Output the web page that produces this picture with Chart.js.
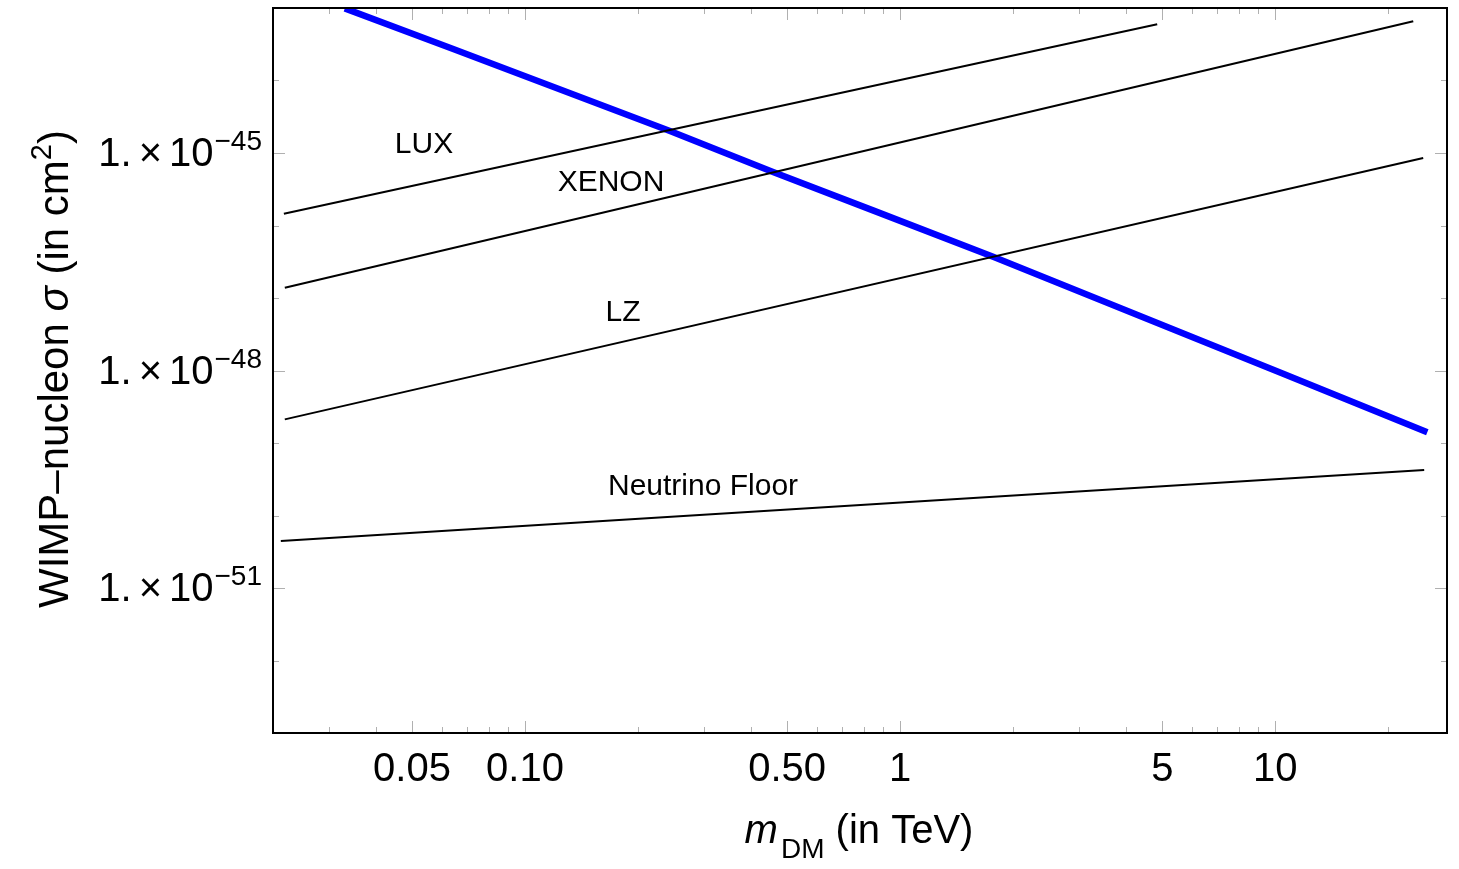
<!DOCTYPE html>
<html lang="en">
<head>
  <meta charset="UTF-8" />
  <title>WIMP-nucleon cross section</title>
  <script src="https://cdn.jsdelivr.net/npm/chart.js"></script>
  <style>
    html, body {
      margin: 0;
      padding: 0;
      background: #fff;
    }
    #wrap {
      width: 1459px;
      height: 869px;
      position: relative;
    }
  </style>
</head>
<body>
  <div id="wrap"><canvas id="limitChart"></canvas></div>
  <script>
    // --- data (mass in TeV, sigma in cm^2) ---
    const luxMass = [0.02277, 4.846];
    const luxSigma = [1.449e-46, 5.957e-44];

    const xenonMass = [0.0229, 23.33];
    const xenonSigma = [1.387e-47, 6.546e-44];

    const lzMass = [0.0229, 24.8];
    const lzSigma = [2.118e-49, 8.53e-46];

    const nuMass = [0.02235, 24.95];
    const nuSigma = [4.436e-51, 4.246e-50];

    const modelMass = [0.0331, 0.2435, 0.4584, 1.77, 25.43];
    const modelSigma = [9.886e-44, 2.01e-45, 5.48e-46, 3.707e-47, 1.403e-49];

    // text labels inside the plot
    const labelNames = ['LUX', 'XENON', 'LZ', 'Neutrino Floor'];
    const labelMass = [0.0538, 0.1696, 0.1825, 0.2983];
    const labelSigma = [1.374e-45, 4.12e-46, 6.7e-48, 2.62e-50];

    // ticks
    const xMajorTicks = [0.05, 0.1, 0.5, 1, 5, 10];
    const xTickLabels = ['0.05', '0.10', '0.50', '1', '5', '10'];
    const xMinorTicks = [0.03, 0.04, 0.06, 0.07, 0.08, 0.09, 0.2, 0.3, 0.4,
      0.6, 0.7, 0.8, 0.9, 2, 3, 4, 6, 7, 8, 9, 20];
    const yMajorTicks = [1e-45, 1e-48, 1e-51];
    const yTickExp = ['\u221245', '\u221248', '\u221251'];
    const yMinorTicks = [1e-44, 1e-46, 1e-47, 1e-49, 1e-50, 1e-52];

    const FONT = '"Liberation Sans", Arial, Helvetica, sans-serif';

    function pairs(xs, ys) {
      return xs.map((x, i) => ({ x: x, y: ys[i] }));
    }

    // draw a run of text pieces with different fonts / offsets
    function drawParts(ctx, parts, x, y, align) {
      let w = 0;
      parts.forEach(p => {
        ctx.font = p.font;
        p.w = ctx.measureText(p.text).width;
        w += p.w + (p.gap || 0);
      });
      let cx = x;
      if (align === 'center') cx = x - w / 2;
      if (align === 'right') cx = x - w;
      ctx.textAlign = 'left';
      ctx.textBaseline = 'alphabetic';
      parts.forEach(p => {
        ctx.font = p.font;
        ctx.fillText(p.text, cx, y + (p.dy || 0));
        cx += p.w + (p.gap || 0);
      });
    }

    const framePlugin = {
      id: 'framePlugin',
      beforeDatasetsDraw(chart) {
        const ctx = chart.ctx;
        const a = chart.chartArea;
        const xs = chart.scales.x;
        const ys = chart.scales.y;
        ctx.save();
        ctx.strokeStyle = '#b0b0b0';
        ctx.lineWidth = 1;
        ctx.beginPath();
        const xt = xMajorTicks.map(v => [v, 12]).concat(xMinorTicks.map(v => [v, 6]));
        xt.forEach(([v, len]) => {
          const px = Math.round(xs.getPixelForValue(v)) + 0.5;
          ctx.moveTo(px, a.bottom); ctx.lineTo(px, a.bottom - len);
          ctx.moveTo(px, a.top); ctx.lineTo(px, a.top + len);
        });
        const yt = yMajorTicks.map(v => [v, 12]).concat(yMinorTicks.map(v => [v, 6]));
        yt.forEach(([v, len]) => {
          const py = Math.round(ys.getPixelForValue(v)) + 0.5;
          ctx.moveTo(a.left, py); ctx.lineTo(a.left + len, py);
          ctx.moveTo(a.right, py); ctx.lineTo(a.right - len, py);
        });
        ctx.stroke();
        ctx.restore();
      },
      afterDatasetsDraw(chart) {
        const ctx = chart.ctx;
        const a = chart.chartArea;
        const xs = chart.scales.x;
        const ys = chart.scales.y;
        ctx.save();

        // frame
        ctx.strokeStyle = '#000';
        ctx.lineWidth = 2;
        ctx.strokeRect(a.left, a.top, a.right - a.left, a.bottom - a.top);

        ctx.fillStyle = '#000';

        // x tick labels
        ctx.font = '40px ' + FONT;
        ctx.textAlign = 'center';
        ctx.textBaseline = 'alphabetic';
        xMajorTicks.forEach((v, i) => {
          ctx.fillText(xTickLabels[i], xs.getPixelForValue(v), a.bottom + 48);
        });

        // y tick labels: 1. x 10^-nn
        yMajorTicks.forEach((v, i) => {
          const py = ys.getPixelForValue(v);
          drawParts(ctx, [
            { text: '1.', font: '40px ' + FONT, gap: 7 },
            { text: '\u00d7', font: '40px ' + FONT, gap: 7 },
            { text: '10', font: '40px ' + FONT, gap: 1 },
            { text: yTickExp[i], font: '28px ' + FONT, dy: -16 }
          ], a.left - 11, py + 13, 'right');
        });

        // x axis title
        drawParts(ctx, [
          { text: 'm', font: 'italic 40px ' + FONT, gap: 3 },
          { text: 'DM', font: '28px ' + FONT, dy: 15 },
          { text: ' (in TeV)', font: '40px ' + FONT }
        ], 859, 843, 'center');

        // y axis title (rotated)
        ctx.save();
        ctx.translate(68, 369);
        ctx.rotate(-Math.PI / 2);
        drawParts(ctx, [
          { text: 'WIMP\u2013nucleon ', font: '42px ' + FONT },
          { text: '\u03c3', font: 'italic 42px ' + FONT },
          { text: ' (in cm', font: '42px ' + FONT },
          { text: '2', font: '29px ' + FONT, dy: -17 },
          { text: ')', font: '42px ' + FONT }
        ], 0, 0, 'center');
        ctx.restore();

        // in-plot labels
        ctx.font = '30px ' + FONT;
        ctx.textAlign = 'center';
        ctx.textBaseline = 'middle';
        labelNames.forEach((t, i) => {
          ctx.fillText(t, xs.getPixelForValue(labelMass[i]), ys.getPixelForValue(labelSigma[i]) + 2);
        });

        ctx.restore();
      }
    };

    const blackLine = {
      borderColor: '#000',
      borderWidth: 2,
      showLine: true,
      pointRadius: 0,
      fill: false
    };

    const ctx = document.getElementById('limitChart').getContext('2d');
    const limitChart = new Chart(ctx, {
      type: 'scatter',
      data: {
        datasets: [
          Object.assign({ label: 'LUX', data: pairs(luxMass, luxSigma) }, blackLine),
          Object.assign({ label: 'XENON', data: pairs(xenonMass, xenonSigma) }, blackLine),
          Object.assign({ label: 'LZ', data: pairs(lzMass, lzSigma) }, blackLine),
          Object.assign({ label: 'Neutrino Floor', data: pairs(nuMass, nuSigma) }, blackLine),
          {
            label: 'model',
            data: pairs(modelMass, modelSigma),
            borderColor: '#0000ff',
            borderWidth: 6.5,
            showLine: true,
            pointRadius: 0,
            cubicInterpolationMode: 'monotone',
            fill: false
          }
        ]
      },
      options: {
        responsive: true,
        maintainAspectRatio: false,
        animation: false,
        layout: {
          padding: { left: 273, top: 8, right: 12, bottom: 136 }
        },
        scales: {
          x: { type: 'logarithmic', min: 0.0213, max: 28.7, display: false },
          y: { type: 'logarithmic', min: 1e-53, max: 1e-43, display: false }
        },
        plugins: {
          legend: { display: false },
          tooltip: { enabled: false }
        }
      },
      plugins: [framePlugin]
    });
  </script>
</body>
</html>
